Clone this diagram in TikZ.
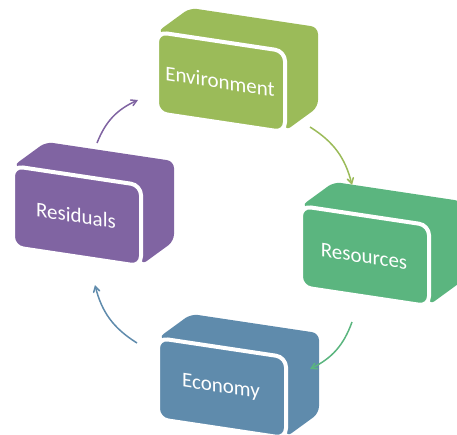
\documentclass[tikz,border=0pt]{standalone}
\usepackage{fontspec}
\setmainfont{Carlito}
\usetikzlibrary{
  arrows
}
\definecolor{envgreen}{HTML}{9BBB59}
\definecolor{srcgreen}{HTML}{5BB57F}
\definecolor{ecoblue}{HTML}{5F8BAC}
\definecolor{respurple}{HTML}{8064A2}
\tikzset{
  >=angle 60,
  box side/.style={rounded corners=7},
  box front/.style={draw=white, line width=4pt, rounded corners=10},
  box text/.style={text=white, font=\fontsize{21}{25}\selectfont, transform shape},
  cycle arrow/.style={->, line width=1.5pt, bend left=22}
}

\begin{document}
\begin{tikzpicture}[x=1pt, y=-1pt]
    \useasboundingbox (0,0) rectangle (457,434);
    % the four boxes
    \begin{scope}[shift={(157,32)}, yslant=-0.15]
      \fill[envgreen, box side] (0,0) -- (33,-29) -- (161,-29) -- (161,51) -- (128,80) -- (128,0) -- cycle;
      \filldraw[fill=envgreen, box front] (0,0) rectangle (128,81);
      \node[box text] (env) at (63,40) {Environment};
    \end{scope}
    \begin{scope}[shift={(301,206)}, yslant=-0.15]
      \fill[srcgreen, box side] (0,0) -- (33,-29) -- (161,-29) -- (161,51) -- (128,80) -- (128,0) -- cycle;
      \filldraw[fill=srcgreen, box front] (0,0) rectangle (128,81);
      \node[box text] (src) at (63,41) {Resources};
    \end{scope}
    \begin{scope}[shift={(158,338)}, yslant=-0.15]
      \fill[ecoblue, box side] (0,0) -- (33,-29) -- (161,-29) -- (161,51) -- (128,80) -- (128,0) -- cycle;
      \filldraw[fill=ecoblue, box front] (0,0) rectangle (128,81);
      \node[box text] (eco) at (63,40) {Economy};
    \end{scope}
    \begin{scope}[shift={(13,166)}, yslant=-0.15]
      \fill[respurple, box side] (0,0) -- (33,-29) -- (161,-29) -- (161,51) -- (128,80) -- (128,0) -- cycle;
      \filldraw[fill=respurple, box front] (0,0) rectangle (128,81);
      \node[box text] (res) at (63,40) {Residuals};
    \end{scope}
    % arrow ends
    \coordinate (res-out) at (97,143);
    \coordinate (env-in) at (138,100);
    \coordinate (env-out) at (310,127);
    \coordinate (src-in) at (352,185);
    \coordinate (src-out) at (352,322);
    \coordinate (eco-in) at (310,369);
    \coordinate (eco-out) at (137,343);
    \coordinate (res-in) at (95,285);
    \draw[cycle arrow, respurple] (res-out) to (env-in);
    \draw[cycle arrow, envgreen] (env-out) to (src-in);
    \draw[cycle arrow, srcgreen] (src-out) to (eco-in);
    \draw[cycle arrow, ecoblue] (eco-out) to (res-in);
\end{tikzpicture}
\end{document}
